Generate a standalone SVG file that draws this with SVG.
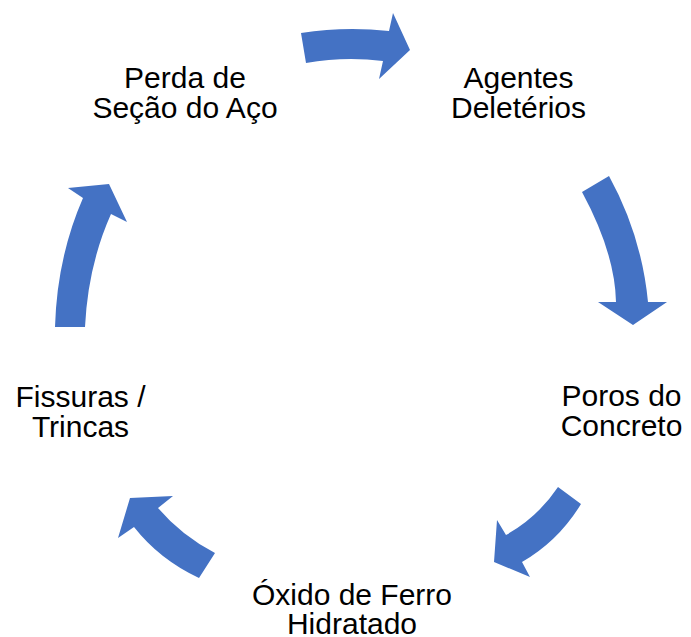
<svg xmlns="http://www.w3.org/2000/svg" width="691" height="637" viewBox="0 0 691 637">
<style>
.arr{fill:#4472C4;stroke:none}
.lbl{font-family:"Liberation Sans",Arial,sans-serif;font-size:30px;fill:#000;text-anchor:middle}
</style>
<rect width="691" height="637" fill="#fff"/>
<g id="connectors">
<path class="arr" d="M301,33 Q345,26 389,31 L393,13 L410,50 L379,79 L383,61 Q345,56 306,63 Z"/>
<path class="arr" d="M582,192 Q615,253 616,302 L598,302 L633,325 L667,302 L648,302 Q641.5,235 609,176 Z"/>
<path class="arr" d="M558,487 Q538,517 506,535 L497,520 L494,562 L530,577 L522,562 Q558.5,541 581,504 Z"/>
<path class="arr" d="M215,553 Q181.5,535.5 158,508 L173,496 L130,498 L118,538 L134,527 Q159.5,559.5 199,578 Z"/>
<path class="arr" d="M55,327 Q57,257.5 83,198 L68,188 L109,184 L127,222 L111,214 Q88,265.5 85,327 Z"/>
</g>
<g id="node-perda"><text class="lbl" x="185" y="88">Perda de</text><text class="lbl" x="185" y="117.5">Seção do Aço</text></g>
<g id="node-agentes"><text class="lbl" x="518.5" y="88">Agentes</text><text class="lbl" x="518.5" y="117.5">Deletérios</text></g>
<g id="node-poros"><text class="lbl" x="621.5" y="406">Poros do</text><text class="lbl" x="621.5" y="436">Concreto</text></g>
<g id="node-oxido"><text class="lbl" x="352" y="605">Óxido de Ferro</text><text class="lbl" x="352" y="634">Hidratado</text></g>
<g id="node-fissuras"><text class="lbl" x="80.5" y="406.5">Fissuras /</text><text class="lbl" x="80.5" y="436.5">Trincas</text></g>
</svg>
